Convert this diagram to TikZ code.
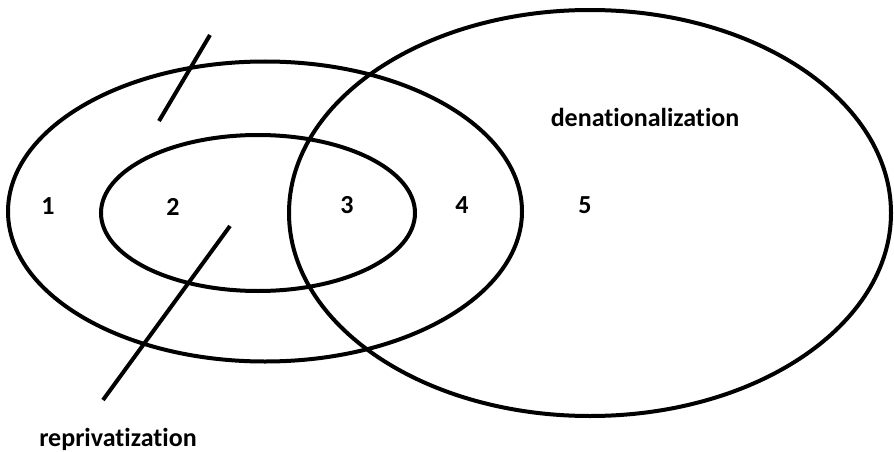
\documentclass[tikz,border=0pt]{standalone}
\usepackage{fontspec}
\setmainfont{Carlito}[Ligatures=NoCommon]
\usetikzlibrary{positioning}
\begin{document}
\begin{tikzpicture}[
  x=1pt,y=-1pt,
  ring/.style={draw=black,line width=4pt},
  tick/.style={draw=black,line width=4pt},
  num/.style={font=\fontsize{26}{30}\selectfont\bfseries,inner sep=0pt}
]
\useasboundingbox (0,0) rectangle (894,452);
% sets
\draw[ring] (265,211.5) ellipse [x radius=257, y radius=150];
\draw[ring] (258,213) ellipse [x radius=157, y radius=78];
\draw[ring] (590,213) ellipse [x radius=301, y radius=203];
% region numbers
\node[num] (r1) at (48,206)  {1};
\node[num] (r2) at (173,207) {2};
\node[num] (r3) at (347,205) {3};
\node[num] (r4) at (462,205) {4};
\node[num] (r5) at (585,205) {5};
\node[num] (denat) at (645,117) {denationalization};
\node[num] (repriv) at (118,439) {reprivatization};
% pointer strokes
\coordinate (topA) at (210,35);
\coordinate (topB) at (159,121);
\coordinate (botA) at (230,226);
\coordinate (botB) at (103,400);
\draw[tick] (topA) -- (topB);
\draw[tick] (botA) -- (botB);
\end{tikzpicture}
\end{document}
